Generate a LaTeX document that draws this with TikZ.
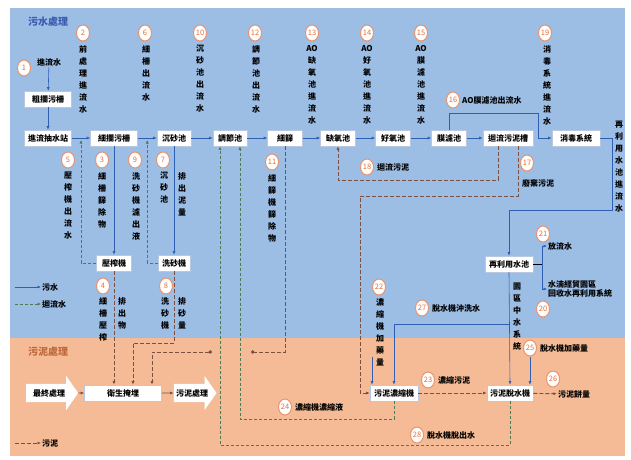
\documentclass[tikz,border=0pt]{standalone}
\usepackage{fontspec}
\setmainfont{Noto Sans CJK TC}
\usetikzlibrary{arrows.meta, shapes.geometric, shapes.arrows, calc}
\definecolor{cbgblue}{HTML}{9CBDE4}
\definecolor{cbgorange}{HTML}{F4BB96}
\definecolor{cblue}{HTML}{2F5FB3}
\definecolor{corange}{HTML}{E0703C}
\definecolor{cgreen}{HTML}{4E7A55}
\definecolor{cbrown}{HTML}{7B5040}
\definecolor{cframe}{HTML}{B8C8E0}
\definecolor{ctitleblue}{HTML}{3A5BB0}
\definecolor{ctitleorange}{HTML}{C0683A}
\tikzset{
  box/.style={draw=cframe, fill=white, line width=0.6pt, font=\bfseries\fontsize{8}{9}\selectfont, inner xsep=3pt, minimum height=16pt, minimum width=34pt},
  num/.style={ellipse, draw=corange!75, fill=white, line width=1pt, text=corange, font=\fontsize{7.5}{8}\selectfont, inner sep=0pt, minimum width=13pt, minimum height=16pt},
  lab/.style={font=\bfseries\fontsize{8}{9}\selectfont, inner sep=1pt},
  vlab/.style={font=\bfseries\fontsize{8}{12}\selectfont, align=center, inner sep=0pt, anchor=north},
  title/.style={font=\bfseries\fontsize{10}{12}\selectfont},
  flow/.style={-{Latex[length=3.5pt, width=3pt]}, draw=cblue, line width=0.6pt},
  ret/.style={-{Latex[length=3.5pt, width=3pt]}, draw=cgreen, line width=0.6pt, dash pattern=on 3pt off 2pt},
  sludge/.style={-{Latex[length=3.5pt, width=3pt]}, draw=cbrown, line width=0.9pt, dash pattern=on 4pt off 2pt},
  link/.style={-{Latex[length=3.5pt, width=3pt]}, draw=cbrown, line width=0.9pt},
  bigarrow/.style={single arrow, fill=white, font=\bfseries\fontsize{8}{9}\selectfont, single arrow head extend=8pt, single arrow tip angle=110, inner xsep=2pt, inner ysep=5pt},
}
\begin{document}
\begin{tikzpicture}[x=1pt, y=-1pt]
  \useasboundingbox (0,0) rectangle (631,459);
  \fill[cbgblue] (10,8) rectangle (625,338);
  \fill[cbgorange] (10,338) rectangle (625,456);
  \node[title, text=ctitleblue] (wtitle) at (48,22) {污水處理};
  \node[title, text=ctitleorange] (stitle) at (48,352) {污泥處理};

  % sewage line
  \node[lab] (inflow) at (49,62) {進流水};
  \node[box, minimum width=47pt] (cscreen) at (48,99) {粗攔污柵};
  \node[box, minimum width=47pt] (pump) at (48,138) {進流抽水站};
  \node[box, minimum width=47pt] (fscreen) at (114,138) {細攔污柵};
  \node[box] (grit) at (174,138) {沉砂池};
  \node[box] (eq) at (230,138) {調節池};
  \node[box, minimum width=35pt] (sieve) at (285,138) {細篩};
  \node[box, minimum width=35pt] (anox) at (338,138) {缺氧池};
  \node[box, minimum width=35pt] (aer) at (393,138) {好氧池};
  \node[box, minimum width=35pt] (mbr) at (449,138) {膜濾池};
  \node[box, minimum width=50pt] (rsludge) at (508,138) {迴流污泥槽};
  \node[box, minimum width=48pt] (disinf) at (576,138) {消毒系統};
  \node[box, minimum width=35pt] (press) at (114,263) {壓榨機};
  \node[box, minimum width=32pt] (sandw) at (174,263) {洗砂機};
  \node[box, minimum width=48pt] (reuse) at (509,264) {再利用水池};
  \node[lab, anchor=west] (discharge) at (547,246) {放流水};
  \node[lab, anchor=west, align=left] (recyc) at (547,289) {水湳經貿園區\\回收水再利用系統};

  % sludge line
  \node[box, minimum width=48pt] (thick) at (394,393) {污泥濃縮機};
  \node[box, minimum width=46pt] (dewat) at (510,393) {污泥脫水機};
  \node[lab] (cake) at (574,394) {污泥餅量};
  \node[box, minimum width=77pt] (landfill) at (123,393) {衛生掩埋};
  \node[bigarrow, minimum height=52pt] (final) at (49,393) {最終處理};
  \node[bigarrow, minimum height=40pt] (sludgeproc) at (192,393) {污泥處理};

  % numbers
  \node[num] (n1) at (24,68) {1};
  \node[num] (n2) at (83,33) {2};
  \node[num] (n6) at (145,33) {6};
  \node[num] (n10) at (200,33) {10};
  \node[num] (n12) at (255,33) {12};
  \node[num] (n13) at (312,33) {13};
  \node[num] (n14) at (367,33) {14};
  \node[num] (n15) at (421,33) {15};
  \node[num] (n19) at (545,33) {19};
  \node[num] (n16) at (453,100) {16};
  \node[num] (n5) at (68,160) {5};
  \node[num] (n3) at (102,160) {3};
  \node[num] (n9) at (135,160) {9};
  \node[num] (n7) at (163,160) {7};
  \node[num] (n11) at (272,162) {11};
  \node[num] (n18) at (367,167) {18};
  \node[num] (n17) at (527,163) {17};
  \node[num] (n21) at (543,234) {21};
  \node[num] (n20) at (543,309) {20};
  \node[num] (n4) at (103,286) {4};
  \node[num] (n8) at (166,286) {8};
  \node[num] (n22) at (379,287) {22};
  \node[num] (n27) at (422,308) {27};
  \node[num] (n25) at (530,348) {25};
  \node[num] (n23) at (428,380) {23};
  \node[num] (n26) at (553,379) {26};
  \node[num] (n24) at (285,407) {24};
  \node[num] (n28) at (417,435) {28};

  % labels
  \node[vlab] (l2) at (83,45) {前\\處\\理\\進\\流\\水};
  \node[vlab] (l6) at (146,45) {細\\柵\\出\\流\\水};
  \node[vlab] (l10) at (200,45) {沉\\砂\\池\\出\\流\\水};
  \node[vlab] (l12) at (256,45) {調\\節\\池\\出\\流\\水};
  \node[vlab] (l13) at (312,45) {AO\\缺\\氧\\池\\進\\流\\水};
  \node[vlab] (l14) at (367,45) {AO\\好\\氧\\池\\進\\流\\水};
  \node[vlab] (l15) at (421,45) {AO\\膜\\濾\\池\\進\\流\\水};
  \node[vlab] (l19) at (547,45) {消\\毒\\系\\統\\進\\流\\水};
  \node[vlab] (lre) at (619,121) {再\\利\\用\\水\\池\\進\\流\\水};
  \node[lab, anchor=west] (l16) at (461,100) {AO膜濾池出流水};
  \node[vlab] (l5) at (68,172) {壓\\榨\\機\\出\\流\\水};
  \node[vlab] (l3) at (102,172) {細\\柵\\篩\\除\\物};
  \node[vlab] (l9) at (136,172) {洗\\砂\\機\\濾\\出\\液};
  \node[vlab] (l7a) at (164,172) {沉\\砂\\池};
  \node[vlab] (l7b) at (182,172) {排\\出\\泥\\量};
  \node[vlab] (l11) at (272,174) {細\\篩\\機\\篩\\除\\物};
  \node[lab, anchor=west] (l18) at (376,167) {迴流污泥};
  \node[lab] (l17) at (538,183) {廢棄污泥};
  \node[vlab] (l4a) at (103,297) {細\\柵\\壓\\榨};
  \node[vlab] (l4b) at (122,297) {排\\出\\物};
  \node[vlab] (l8a) at (165,297) {洗\\砂\\機};
  \node[vlab] (l8b) at (182,297) {排\\砂\\量};
  \node[vlab] (l22) at (380,298) {濃\\縮\\機\\加\\藥\\量};
  \node[vlab] (lmid) at (517,283) {園\\區\\中\\水\\系\\統};
  \node[lab, anchor=west] (l27) at (431,308) {脫水機沖洗水};
  \node[lab, anchor=west] (l25) at (539,348) {脫水機加藥量};
  \node[lab, anchor=west] (l23) at (437,380) {濃縮污泥};
  \node[lab, anchor=west] (l24) at (294,407) {濃縮機濃縮液};
  \node[lab, anchor=west] (l28) at (426,435) {脫水機脫出水};

  % legend
  \node[lab, anchor=west] (leg1) at (41,287) {污水};
  \node[lab, anchor=west] (leg2) at (41,304) {迴流水};
  \node[lab, anchor=west] (leg3) at (41,443) {污泥};
  \coordinate (leg1s) at (15,287);
  \coordinate (leg2s) at (15,304);
  \coordinate (leg3s) at (15,443);
  \draw[flow] (leg1s) -- (leg1);
  \draw[ret] (leg2s) -- (leg2);
  \draw[sludge] (leg3s) -- (leg3);

  % corners
  \coordinate (j5) at ($(pump.east)!0.5!(fscreen.west)$);
  \coordinate (j9) at ($(fscreen.east)!0.5!(grit.west)$);
  \coordinate (c16) at (538,113);
  \coordinate (cr) at (612,210);
  \coordinate (split) at (542,264);
  \coordinate (c27) at (509,324);
  \coordinate (c22) at (372,357);
  \coordinate (c18) at (498,180);
  \coordinate (c17a) at (518,196);
  \coordinate (c17b) at (360,196);
  \coordinate (c24) at (240,419);
  \coordinate (c28) at (220,445);
  \coordinate (c8) at (133,343);
  \coordinate (d11) at (251,352);
  \coordinate (d11b) at (212,352);
  \coordinate (c11) at (152,352);

  % sewage flow
  \draw[flow] (inflow) -- (cscreen);
  \draw[flow] (cscreen) -- (pump);
  \draw[flow] (pump) -- (fscreen);
  \draw[flow] (fscreen) -- (grit);
  \draw[flow] (grit) -- (eq);
  \draw[flow] (eq) -- (sieve);
  \draw[flow] (sieve) -- (anox);
  \draw[flow] (anox) -- (aer);
  \draw[flow] (aer) -- (mbr);
  \draw[flow] (mbr) -- (rsludge);
  \draw[flow] (mbr.north) |- (c16) |- (disinf.west);
  \draw[flow] (disinf.east) -| (cr) -| (reuse.north);
  \draw (reuse.east) -- (split);
  \draw[flow] (split) |- (discharge.west);
  \draw[flow] (split) |- (recyc.west);
  \draw[flow] (reuse.south) -- (dewat.north);
  \draw[flow] (c27) -| (thick.north);
  \draw[flow] (c22) -- (c22 |- thick.north);
  \draw[flow] (n25) -- (n25 |- dewat.north);
  \draw[flow] (fscreen.south) -- (press.north);
  \draw[flow] (grit.south) -- (grit.south |- sandw.north);

  % return water
  \draw[ret] (press.west) -| ([yshift=-2pt]j5);
  \draw[ret] (sandw.west) -| ([yshift=-2pt]j9);
  \draw[ret] (thick.south) |- (c24) -- (c24 |- eq.south);
  \draw[ret] (dewat.south) |- (c28) -- (c28 |- eq.south);

  % sludge
  \draw[sludge] (c18 |- rsludge.south) -- (c18) -| (anox.south);
  \draw[sludge] (c17a |- rsludge.south) -- (c17a) -- (c17b) |- (thick.west);
  \draw[sludge] (thick) -- (dewat);
  \draw[sludge] (dewat) -- (cake);
  \draw[sludge] (press.south) -- (press.south |- landfill.north);
  \draw[sludge] (sandw.south) |- (c8) -- (c8 |- landfill.north);
  \draw[sludge, -{Circle[length=3.5pt]}] (sieve.south) |- (d11);
  \draw[sludge, {Circle[length=3.5pt]}-{Latex[length=3.5pt, width=3pt]}] (d11b) -- (c11) -- (c11 |- landfill.north);
  \draw[link] (final) -- (landfill);
  \draw[link] (landfill) -- (sludgeproc);
\end{tikzpicture}
\end{document}
